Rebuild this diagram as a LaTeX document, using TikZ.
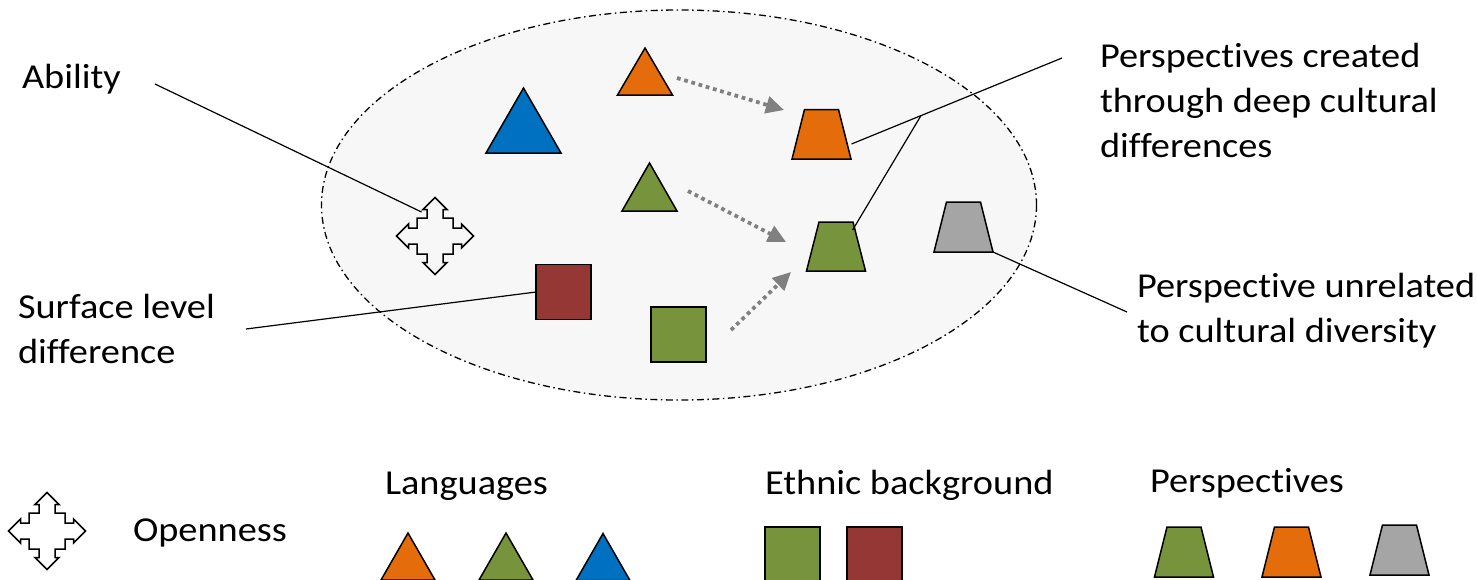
\documentclass[tikz,border=0pt]{standalone}
\usepackage{fontspec}
\setmainfont{Carlito}[FakeStretch=1.095, Ligatures=NoCommon]
\usetikzlibrary{arrows.meta,calc}

\definecolor{cOrange}{HTML}{E46C0A}
\definecolor{cGreen}{HTML}{77933C}
\definecolor{cBlue}{HTML}{0070C0}
\definecolor{cRed}{HTML}{953735}
\definecolor{cGrey}{HTML}{A5A5A5}
\definecolor{cArrow}{HTML}{808080}
\definecolor{cCloud}{HTML}{F7F7F7}

% shape helpers: a named box node, then the outline drawn from its anchors
\newcommand\trinode[5]{% name, centre, base width, height, fill
  \node[shapebox, minimum width=#3, minimum height=#4] (#1) at (#2) {};
  \draw[outl, fill=#5] (#1.south west) -- (#1.south east) -- (#1.north) -- cycle;}
\newcommand\trapnode[5]{% name, centre, base width, height, fill
  \node[shapebox, minimum width=#3, minimum height=#4] (#1) at (#2) {};
  \draw[outl, fill=#5] (#1.south west) -- (#1.south east)
    -- ($(#1.north east)+(-12.5,0)$) -- ($(#1.north west)+(12.5,0)$) -- cycle;}
\newcommand\sqnode[5]{% name, centre, width, height, fill
  \node[shapebox, outl, fill=#5, minimum width=#3, minimum height=#4] (#1) at (#2) {};}

\tikzset{
  pics/openicon/.style={code={
    \draw[outl]
      (0,-38.5) -- (12,-26.5) -- (8,-26.5) -- (8,-18) -- (18,-18) -- (18,-8)
      -- (26.5,-8) -- (26.5,-12) -- (38.5,0)
      -- (26.5,12) -- (26.5,8) -- (18,8) -- (18,18) -- (8,18) -- (8,26.5)
      -- (12,26.5) -- (0,38.5)
      -- (-12,26.5) -- (-8,26.5) -- (-8,18) -- (-18,18) -- (-18,8)
      -- (-26.5,8) -- (-26.5,12) -- (-38.5,0)
      -- (-26.5,-12) -- (-26.5,-8) -- (-18,-8) -- (-18,-18) -- (-8,-18)
      -- (-8,-26.5) -- (-12,-26.5) -- cycle;
  }}
}

\begin{document}
\begin{tikzpicture}[x=1pt, y=-1pt,
  lbl/.style={anchor=base west, inner sep=0pt, outer sep=0pt,
    font=\fontsize{35}{45}\selectfont},
  shapebox/.style={rectangle, inner sep=0pt, outer sep=0pt},
  outl/.style={draw=black, line width=1.5pt, line join=miter},
  lead/.style={draw=black, line width=1.2pt},
  flow/.style={draw=cArrow, line width=3.75pt, line cap=butt,
    dash pattern=on 3.75pt off 3.75pt,
    -{Triangle[length=18pt, width=17pt]}},
  cloud/.style={draw=black, line width=1.3pt, fill=cCloud,
    dash pattern=on 7pt off 3.5pt on 1.5pt off 3.5pt},
]
\useasboundingbox (0,0) rectangle (1477,579);
\clip (0,0) rectangle (1477,579);

% the group
\path[cloud] (679,205) ellipse [x radius=357.5, y radius=195];

% members
\node[shapebox, minimum size=77pt] (icon) at (435,236) {};
\pic at (icon.center) {openicon};
\trinode{triO}{645,71.5}{55pt}{47pt}{cOrange}
\trinode{triB}{523.5,120.5}{75pt}{65pt}{cBlue}
\trinode{triG}{649.5,187}{55pt}{48pt}{cGreen}
\trapnode{trapO}{821.5,134.3}{59pt}{49.5pt}{cOrange}
\trapnode{trapG}{836,246.5}{59pt}{49pt}{cGreen}
\trapnode{trapY}{963.5,227}{59pt}{50pt}{cGrey}
\sqnode{sqR}{563.5,292}{55pt}{55pt}{cRed}
\sqnode{sqG}{678.5,334.5}{55pt}{55pt}{cGreen}

% where perspectives come from
\coordinate (f1a) at (677,78);   \coordinate (f1b) at (784,110);
\coordinate (f2a) at (688,191);  \coordinate (f2b) at (786,242);
\coordinate (f3a) at (731,330);  \coordinate (f3b) at (791,272);
\draw[flow] (f1a) -- (f1b);
\draw[flow] (f2a) -- (f2b);
\draw[flow] (f3a) -- (f3b);

% labels
\node[lbl] (ability) at (22,88) {Ability};
\node[lbl] (created) at (1100,67.5)
  {\begin{tabular}[t]{@{}l@{}}Perspectives created\\through deep cultural\\differences\end{tabular}};
\node[lbl] (unrelated) at (1137,297.5)
  {\begin{tabular}[t]{@{}l@{}}Perspective unrelated\\to cultural diversity\end{tabular}};
\node[lbl] (surface) at (18,318)
  {\begin{tabular}[t]{@{}l@{}}Surface level\\difference\end{tabular}};

% leader lines
\coordinate (abilityTail) at (155,84);
\coordinate (surfaceTail) at (246,329);
\coordinate (createdTail) at (1062,58);
\coordinate (unrelatedTail) at (1127,312);
\coordinate (orangeEnd) at ($(trapO.center)+(30,9.7)$);
\coordinate (junction) at ($(createdTail)!0.67!(orangeEnd)$);
\draw[lead] (abilityTail) -- ($(icon.center)+(-13.5,-24)$);
\draw[lead] (surfaceTail) -- (sqR.west);
\draw[lead] (createdTail) -- (orangeEnd);
\draw[lead] (junction) -- ($(trapG.center)+(16.6,-16.5)$);
\draw[lead] (unrelatedTail) -- (trapY.south east);

% legend
\node[shapebox, minimum size=77pt] (iconKey) at (47,531) {};
\pic at (iconKey.center) {openicon};
\node[lbl] (openness) at (133,541) {Openness};

\node[lbl] (languages) at (385,494) {Languages};
\trinode{keyTriO}{408,556.5}{54pt}{47pt}{cOrange}
\trinode{keyTriG}{506,556.5}{54pt}{47pt}{cGreen}
\trinode{keyTriB}{603,557}{54pt}{47pt}{cBlue}

\node[lbl] (ethnic) at (765,494) {Ethnic background};
\sqnode{keySqG}{792.5,555}{55pt}{56pt}{cGreen}
\sqnode{keySqR}{874.5,555}{55pt}{56pt}{cRed}

\node[lbl] (perspectives) at (1150,492) {Perspectives};
\trapnode{keyTrapG}{1184,552}{59pt}{50pt}{cGreen}
\trapnode{keyTrapO}{1291.5,552}{59pt}{50pt}{cOrange}
\trapnode{keyTrapY}{1399.5,550}{59pt}{50pt}{cGrey}
\end{tikzpicture}
\end{document}
